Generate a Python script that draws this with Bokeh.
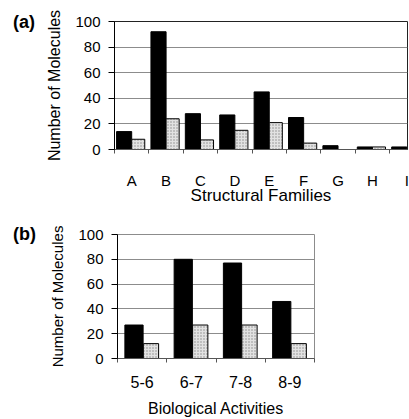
import numpy as np
from bokeh.plotting import figure
from bokeh.layouts import column, row
from bokeh.models import ColumnDataSource, FixedTicker, Range1d, Div
from bokeh.transform import dodge
from bokeh.embed import file_html
from bokeh.resources import INLINE

# ---- data ----
families = ["A", "B", "C", "D", "E", "F", "G", "H", "I"]
fam_black = [14, 92, 28, 27, 45, 25, 3, 2, 2]
fam_gray = [8, 24, 7.5, 15, 21, 5, 0, 2, 0]

activities = ["5-6", "6-7", "7-8", "8-9"]
act_black = [27, 80, 77, 46]
act_gray = [12, 27, 27, 12]

y_ticks = [0, 20, 40, 60, 80, 100]

FONT = "Liberation Sans"
DIV_W = 40


def style(p, cats, xlabel, grid_color, outline_color, xtick_size, xlab_size, ylab_size):
    n = len(cats)
    p.xaxis.ticker = FixedTicker(ticks=list(range(n)),
                                 minor_ticks=[i + 0.5 for i in range(-1, n)])
    p.xaxis.major_label_overrides = {i: c for i, c in enumerate(cats)}
    p.yaxis.ticker = FixedTicker(ticks=y_ticks)
    p.xaxis.axis_label = xlabel
    p.yaxis.axis_label = "Number of Molecules"
    for ax in (p.xaxis[0], p.yaxis[0]):
        ax.major_label_text_font = FONT
        ax.major_label_text_color = "black"
        ax.axis_label_text_font = FONT
        ax.axis_label_text_font_style = "normal"
        ax.axis_label_text_color = "black"
    p.yaxis.major_label_text_font_size = "15px"
    p.xaxis.major_label_text_font_size = xtick_size
    p.xaxis.axis_label_text_font_size = xlab_size
    p.yaxis.axis_label_text_font_size = ylab_size
    p.xaxis.major_tick_out = 0
    p.xaxis.major_tick_in = 0
    p.xaxis.minor_tick_out = 4
    p.xaxis.minor_tick_in = 0
    p.xaxis.minor_tick_line_color = "#555555"
    p.xaxis.axis_line_color = "#555555"
    p.yaxis.major_tick_out = 6
    p.yaxis.major_tick_in = 0
    p.yaxis.minor_tick_line_color = None
    p.yaxis.axis_line_color = "black"
    p.yaxis.major_tick_line_color = "black"
    p.yaxis.major_label_standoff = 8
    p.yaxis.axis_label_standoff = 9
    p.xgrid.grid_line_color = None
    p.ygrid.ticker = FixedTicker(ticks=y_ticks[1:])
    p.ygrid.grid_line_color = grid_color
    p.outline_line_color = outline_color
    p.background_fill_color = "white"
    p.border_fill_color = "white"


def tag(text, pad_top, height):
    return Div(text=text, width=DIV_W, height=height, margin=0,
               styles={"font-family": FONT, "font-size": "18px", "font-weight": "bold",
                       "padding-top": f"{pad_top}px", "padding-left": "13px",
                       "line-height": "20px", "color": "black"})


# ---- panel (a) ----
HA = 208
src_a = ColumnDataSource(dict(x=list(range(len(families))), black=fam_black, gray=fam_gray))
pa = figure(width=409 - DIV_W, height=HA, output_backend="svg", toolbar_location=None,
            x_range=Range1d(-0.5, 8.02), y_range=Range1d(0, 100),
            min_border_left=114 - DIV_W, min_border_right=2, min_border_top=21,
            min_border_bottom=HA - 149)
pa.vbar(x=dodge("x", -0.22, range=pa.x_range), top="black", width=0.44, source=src_a,
        fill_color="black", line_color="black")
pa.vbar(x=dodge("x", 0.19, range=pa.x_range), top="gray", width=0.38, source=src_a,
        fill_color="#e2e2e2", line_color="black", hatch_pattern="dot",
        hatch_color="#8a8a8a", hatch_scale=3, hatch_weight=1)
style(pa, families, "Structural Families", "#8c8c8c", "#222222", "15px", "17px", "16px")
pa.xaxis.major_label_standoff = 18
pa.xaxis.axis_label_standoff = -6

# ---- panel (b) ----
HB = 419 - HA
src_b = ColumnDataSource(dict(x=list(range(len(activities))), black=act_black, gray=act_gray))
pb = figure(width=409 - DIV_W, height=HB, output_backend="svg", toolbar_location=None,
            x_range=Range1d(-0.5, 3.5), y_range=Range1d(0, 100),
            min_border_left=117 - DIV_W, min_border_right=95, min_border_top=234 - HA,
            min_border_bottom=HB - (359 - HA))
pb.vbar(x=dodge("x", -0.165, range=pb.x_range), top="black", width=0.37, source=src_b,
        fill_color="black", line_color="black")
pb.vbar(x=dodge("x", 0.18, range=pb.x_range), top="gray", width=0.31, source=src_b,
        fill_color="#e2e2e2", line_color="black", hatch_pattern="dot",
        hatch_color="#8a8a8a", hatch_scale=3, hatch_weight=1)
style(pb, activities, "Biological Activities", "#8c8c8c", "#8c8c8c", "16px", "16px", "15px")
pb.xaxis.major_label_standoff = 13
pb.xaxis.axis_label_standoff = 9

layout = column(row(tag("(a)", 12, HA), pa, spacing=0),
                row(tag("(b)", 16, HB), pb, spacing=0), spacing=0)
open("out.html", "w").write(file_html(layout, INLINE))
